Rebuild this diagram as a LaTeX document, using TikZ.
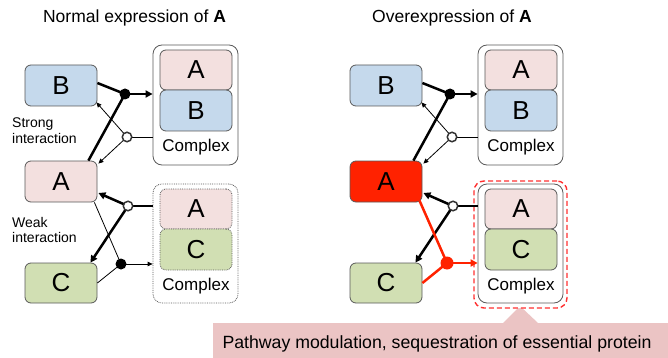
\documentclass[tikz,border=0pt]{standalone}
\usepackage{fontspec}
\setmainfont{Liberation Sans}
\usetikzlibrary{arrows.meta,calc}
\definecolor{pinkA}{HTML}{F3E0DF}
\definecolor{blueB}{HTML}{C5D9EC}
\definecolor{greenC}{HTML}{D1DFB3}
\definecolor{redA}{HTML}{FF2200}
\definecolor{calloutc}{HTML}{EBC4C4}
\definecolor{bordergray}{HTML}{595959}
\definecolor{hlred}{HTML}{FF3030}
\begin{document}
\begin{tikzpicture}[x=1pt,y=-1pt,
  protbox/.style={draw=bordergray, line width=0.8pt, rounded corners=6pt, minimum width=72pt, minimum height=41pt, inner sep=0pt, font=\fontsize{26}{30}\selectfont},
  cplxbox/.style={draw=bordergray, line width=0.8pt, rounded corners=9pt, minimum width=85pt, minimum height=120pt, inner sep=0pt},
  dottedbox/.style={densely dotted},
  cplxlabel/.style={font=\fontsize{17}{20}\selectfont, inner sep=0pt},
  titlelabel/.style={font=\fontsize{17.5}{20}\selectfont, inner sep=0pt},
  smalllabel/.style={font=\fontsize{14}{15.5}\selectfont, align=left, inner sep=0pt, anchor=west},
  strongline/.style={line width=2.5pt},
  thinline/.style={line width=0.8pt},
  bigtip/.style={-{Triangle[length=7pt,width=7pt]}},
  smalltip/.style={-{Triangle[length=5pt,width=4.5pt]}},
  fdot/.style={circle, fill=black, minimum size=11pt, inner sep=0pt},
  odot/.style={circle, draw=black!80, line width=1.5pt, fill=white, minimum size=9.5pt, inner sep=0pt},
  rdot/.style={circle, fill=redA, minimum size=13pt, inner sep=0pt}]
\useasboundingbox (0,0) rectangle (668,358);

% ---------- titles ----------
\node[titlelabel] (T1) at (134.5,18) {Normal expression of \textbf{A}};
\node[titlelabel] (T2) at (452,18) {Overexpression of \textbf{A}};

% ---------- left panel ----------
\node[protbox, fill=blueB] (L-B) at (61,85.5) {B};
\node[protbox, fill=pinkA] (L-A) at (61,181.5) {A};
\node[protbox, fill=greenC, minimum height=40pt] (L-C) at (61,283) {C};

\node[cplxbox] (L-X1) at (195.5,105) {};
\node[protbox, fill=pinkA, minimum height=40pt] (L-X1a) at (196,70) {A};
\node[protbox, fill=blueB] (L-X1b) at (196,110.5) {B};
\node[cplxlabel] (L-X1l) at (196,147) {Complex};

\node[cplxbox, dottedbox, minimum height=119pt] (L-X2) at (195.5,243.5) {};
\node[protbox, dottedbox, fill=pinkA, minimum height=40pt] (L-X2a) at (196,209) {A};
\node[protbox, dottedbox, fill=greenC] (L-X2c) at (196,249.5) {C};
\node[cplxlabel] (L-X2l) at (196,286) {Complex};

\node[smalllabel] (L-s) at (12,130.5) {Strong\\interaction};
\node[smalllabel] (L-w) at (12,230) {Weak\\interaction};

\coordinate (L-f1) at (125,94);
\coordinate (L-o1) at (127,137);
\coordinate (L-o2) at (128,206);
\coordinate (L-f2) at (121,264);

\draw[strongline] ($(L-B.east)+(0,-2.5)$) -- (L-f1);
\draw[strongline] ($(L-A.north east)+(-9,0)$) -- (L-f1);
\draw[strongline, bigtip] (L-f1) -- (L-f1 -| L-X1.west);
\draw[thinline] (L-o1) -- (L-o1 -| L-X1.west);
\draw[thinline, smalltip] (L-o1) -- ($(L-B.south east)+(-1,-4)$);
\draw[thinline, smalltip] (L-o1) -- ($(L-A.north east)+(1,3)$);

\draw[strongline] (L-o2 -| L-X2.west) -- (L-o2);
\draw[strongline, bigtip] (L-o2) -- ($(L-A.east)+(1,11.5)$);
\draw[strongline, bigtip] (L-o2) -- ($(L-C.north east)+(-7,0)$);
\draw[thinline] ($(L-A.south east)+(-3,0)$) -- (L-f2);
\draw[thinline] (L-C.east) -- (L-f2);
\draw[thinline, smalltip] (L-f2) -- (L-f2 -| L-X2.west);

\node[fdot] (L-f1d) at (L-f1) {};
\node[odot] (L-o1d) at (L-o1) {};
\node[odot] (L-o2d) at (L-o2) {};
\node[fdot] (L-f2d) at (L-f2) {};

% ---------- callout ----------
\fill[calloutc] (213,323) -- (503,323) -- (520,306) -- (538,323) -- (668,323) -- (668,358) -- (213,358) -- cycle;
\node[font=\fontsize{17.7}{20}\selectfont, inner sep=0pt] (CO) at (437,343.5) {Pathway modulation, sequestration of essential protein};

% ---------- right panel ----------
\node[protbox, fill=blueB] (R-B) at (386,85.5) {B};
\node[protbox, fill=redA] (R-A) at (386,181.5) {A};
\node[protbox, fill=greenC, minimum height=40pt] (R-C) at (386,283) {C};

\node[cplxbox] (R-X1) at (520.5,105) {};
\node[protbox, fill=pinkA, minimum height=40pt] (R-X1a) at (521,70) {A};
\node[protbox, fill=blueB] (R-X1b) at (521,110.5) {B};
\node[cplxlabel] (R-X1l) at (521,147) {Complex};

\node[draw=hlred, line width=1.4pt, dash pattern=on 5pt off 3pt, rounded corners=10pt, minimum width=93pt, minimum height=127pt, inner sep=0pt, fill=white] (R-hl) at (520.5,244.5) {};
\node[cplxbox, minimum height=119pt] (R-X2) at (520.5,243.5) {};
\node[protbox, fill=pinkA, minimum height=40pt] (R-X2a) at (521,209) {A};
\node[protbox, fill=greenC] (R-X2c) at (521,249.5) {C};
\node[cplxlabel] (R-X2l) at (521,286) {Complex};

\coordinate (R-f1) at (450,94);
\coordinate (R-o1) at (452,137);
\coordinate (R-o2) at (453,206);
\coordinate (R-f2) at (447,263);

\draw[strongline] ($(R-B.east)+(0,-2.5)$) -- (R-f1);
\draw[strongline] ($(R-A.north east)+(-9,0)$) -- (R-f1);
\draw[strongline, bigtip] (R-f1) -- (R-f1 -| R-X1.west);
\draw[thinline] (R-o1) -- (R-o1 -| R-X1.west);
\draw[thinline, smalltip] (R-o1) -- ($(R-B.south east)+(-1,-4)$);
\draw[thinline, smalltip] (R-o1) -- ($(R-A.north east)+(1,3)$);

\draw[strongline] (R-o2 -| R-X2.west) -- (R-o2);
\draw[strongline, bigtip] (R-o2) -- ($(R-A.east)+(1,11.5)$);
\draw[strongline, bigtip] (R-o2) -- ($(R-C.north east)+(-7,0)$);
\draw[strongline, redA] ($(R-A.south east)+(-3,-2)$) -- (R-f2);
\draw[strongline, redA] (R-C.east) -- (R-f2);
\draw[strongline, redA, bigtip] (R-f2) -- (R-f2 -| R-X2.west);

\node[fdot] (R-f1d) at (R-f1) {};
\node[odot] (R-o1d) at (R-o1) {};
\node[odot] (R-o2d) at (R-o2) {};
\node[rdot] (R-f2d) at (R-f2) {};
\end{tikzpicture}
\end{document}
